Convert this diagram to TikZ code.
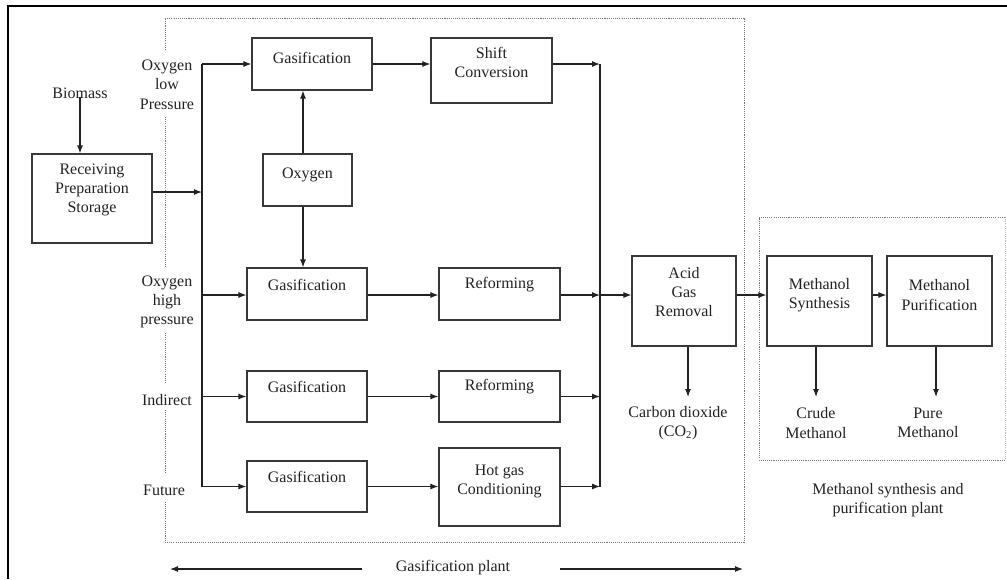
\documentclass[tikz,border=0pt]{standalone}
\usepackage{fontspec}
\setmainfont{Liberation Serif}
\usetikzlibrary{arrows.meta,calc,fit}
\definecolor{ink}{HTML}{222222}
\definecolor{dotc}{HTML}{777777}
\begin{document}
\begin{tikzpicture}[x=0.75pt,y=-0.75pt,
  font=\fontsize{12}{14.5}\selectfont, text=ink,
  box/.style={draw=ink!90, line width=0.9pt, inner sep=0pt, align=center},
  txt/.style={align=center, inner sep=0pt},
  ln/.style={draw=ink, line width=0.8pt},
  arr/.style={draw=ink, line width=0.8pt, -{Latex[length=6pt,width=4.5pt]}},
  dots/.style={draw=dotc, line width=0.7pt, dash pattern=on 0.8pt off 0.8pt}]
\useasboundingbox (0,0) rectangle (1007,579);
% outer frame (top and left visible)
\draw[line width=2.2pt, black] (8,579) -- (8,6) -- (1007,6);

% dotted plant boundaries
\draw[dots] (165,50) -- (165,18) -- (744,18) -- (744,542) -- (165,542) -- (165,502);
\draw[dots] (165,117) -- (165,268);
\draw[dots] (165,333) -- (165,383);
\draw[dots] (165,410) -- (165,473);
\draw[dots] (1005,217) -- (759,217) -- (759,460) -- (1005,460);
\draw[dots, dotc!50] (1005,217) -- (1005,460);

% boxes
\node[box, fit={(32,154) (152,243)}] (rps) {};
\node[txt] (rpst) at (92,190) {Receiving\\Preparation\\Storage};
\node[box, fit={(252,38) (372,90)}] (gas1) {Gasification};
\node[box, fit={(431,38) (552,103)}] (shift) {};
\node[txt] (shiftt) at (491.5,62.5) {Shift\\Conversion};
\node[box, fit={(263,154) (352,206)}] (oxy) {Oxygen};
\node[box, fit={(247,268) (367,320)}] (gas2) {};
\node[txt] (gas2t) at (307,285) {Gasification};
\node[box, fit={(439,268) (560,320)}] (ref1) {};
\node[txt] (ref1t) at (499.5,285) {Reforming};
\node[box, fit={(247,371) (367,422)}] (gas3) {};
\node[txt] (gas3t) at (307,387) {Gasification};
\node[box, fit={(439,371) (560,422)}] (ref2) {};
\node[txt] (ref2t) at (499.5,387) {Reforming};
\node[box, fit={(247,461) (367,512)}] (gas4) {};
\node[txt] (gas4t) at (307,477) {Gasification};
\node[box, fit={(439,448) (560,526)}] (hot) {Hot gas\\Conditioning};
\node[box, fit={(632,256) (736,346)}] (agr) {};
\node[txt] (agrt) at (684,292) {Acid\\Gas\\Removal};
\node[box, fit={(767,256) (872,346)}] (ms) {};
\node[txt] (mst) at (819.5,295) {Methanol\\Synthesis};
\node[box, fit={(887,256) (992,346)}] (mp) {};
\node[txt] (mpt) at (939.5,295) {Methanol\\Purification};

% labels
\node[txt] (bio) at (80,93) {Biomass};
\node[txt] (lowp) at (167,84.5) {Oxygen\\low\\Pressure};
\node[txt] (highp) at (167,302) {Oxygen\\high\\pressure};
\node[txt] (ind) at (167,400) {Indirect};
\node[txt] (fut) at (164,490) {Future};
\node[txt] (co2) at (678,423) {Carbon dioxide\\(CO\textsubscript{2})};
\node[txt] (crude) at (816,423) {Crude\\Methanol};
\node[txt] (pure) at (928,423) {Pure\\Methanol};
\node[txt] (mplant) at (888,500) {Methanol synthesis and\\purification plant};
\node[txt] (gplant) at (453,568) {Gasification plant};

% helper coordinates
\coordinate (bl) at (202,0);
\coordinate (br) at (600,0);
\coordinate (vx) at (303,0);
\coordinate (rpsy) at (0,192);
\coordinate (flow) at (0,295);
\coordinate (a1) at (688,397);
\coordinate (a2) at (816,397);
\coordinate (a3) at (936,397);
\coordinate (gpl) at (170,569);
\coordinate (gpl0) at (362,569);
\coordinate (gpr0) at (560,569);
\coordinate (gpr) at (743,569);

% connectors
\draw[arr] (bio.south) ++(0,-2) -- (rps.north -| bio.south);
\draw[arr] (rps.east |- rpsy) -- (bl |- rpsy);
\draw[ln] (bl |- gas1.west) -- (bl |- gas4.west);
\draw[arr] (bl |- gas1.west) -- (gas1.west);
\draw[arr] (bl |- flow) -- (gas2.west |- flow);
\draw[arr] (bl |- gas3.west) -- (gas3.west);
\draw[arr] (bl |- gas4.west) -- (gas4.west);
\draw[arr] (oxy.north -| vx) -- (gas1.south -| vx);
\draw[arr] (oxy.south -| vx) -- (gas2.north -| vx);
\draw[arr] (gas1.east) -- (shift.west |- gas1.east);
\draw[arr] (shift.east |- gas1.east) -- (br |- gas1.east);
\draw[arr] (gas2.east |- flow) -- (ref1.west |- flow);
\draw[arr] (ref1.east |- flow) -- (br |- flow);
\draw[arr] (gas3.east) -- (ref2.west);
\draw[arr] (ref2.east) -- (br |- ref2.east);
\draw[arr] (gas4.east) -- (hot.west |- gas4.east);
\draw[arr] (hot.east |- gas4.east) -- (br |- gas4.east);
\draw[ln] (br |- gas1.east) -- (br |- gas4.east);
\draw[arr] (br |- flow) -- (agr.west |- flow);
\draw[arr] (agr.east |- flow) -- (ms.west |- flow);
\draw[arr] (ms.east |- flow) -- (mp.west |- flow);
\draw[arr] (agr.south -| a1) -- (a1);
\draw[arr] (ms.south -| a2) -- (a2);
\draw[arr] (mp.south -| a3) -- (a3);
\draw[arr] (gpl0) -- (gpl);
\draw[arr] (gpr0) -- (gpr);
\end{tikzpicture}
\end{document}
